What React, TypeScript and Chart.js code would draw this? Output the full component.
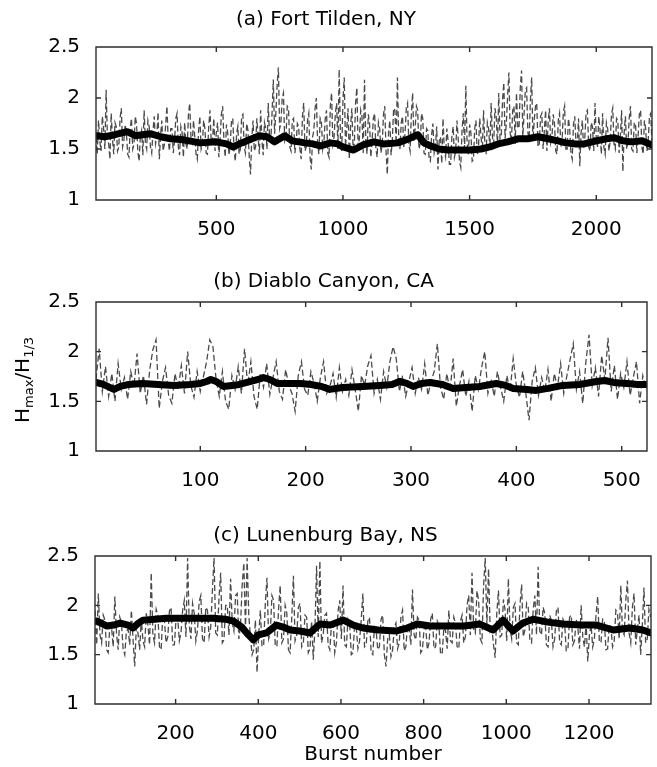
import React, { useEffect, useRef } from 'react';
import { Chart, registerables } from 'chart.js';

Chart.register(...registerables);

const FONT = "'DejaVu Sans', 'Liberation Sans', sans-serif";

// ---------- (a) Fort Tilden, NY ----------
const aTitle = '(a) Fort Tilden, NY';
const aTicksX = [500, 1000, 1500, 2000];
const aGrayStart = 25;
const aGrayStep = 5;
const aGray = [
  1.62, 1.45, 1.78, 1.58, 1.48, 1.82, 1.70, 1.50, 2.08, 1.62, 1.55, 1.40, 1.85, 1.60, 1.45, 1.76, 1.72, 1.48, 1.52, 1.80,
  1.90, 1.52, 1.58, 1.74, 1.66, 1.45, 1.42, 1.70, 1.80, 1.50, 1.55, 1.82, 1.75, 1.48, 1.38, 1.62, 1.68, 1.44, 1.88, 1.56,
  1.50, 1.78, 1.72, 1.52, 1.46, 1.68, 1.82, 1.55, 1.62, 1.86, 1.40, 1.64, 1.78, 1.48, 1.55, 1.74, 1.92, 1.58, 1.48, 1.70,
  1.70, 1.46, 1.58, 1.80, 1.85, 1.52, 1.44, 1.72, 1.66, 1.42, 1.76, 1.55, 1.50, 1.84, 1.95, 1.60, 1.56, 1.78, 1.62, 1.45,
  1.40, 1.68, 1.82, 1.50, 1.55, 1.78, 1.70, 1.46, 1.45, 1.72, 1.88, 1.56, 1.58, 1.80, 1.48, 1.66, 1.76, 1.42, 1.60, 1.84,
  1.92, 1.58, 1.42, 1.74, 1.66, 1.44, 1.55, 1.78, 1.80, 1.48, 1.38, 1.65, 1.72, 1.45, 1.50, 1.82, 1.84, 1.52, 1.46, 1.75,
  1.68, 1.42, 1.25, 1.60, 1.78, 1.48, 1.52, 1.80, 1.62, 1.45, 1.88, 1.58, 1.44, 1.76, 1.70, 1.50, 1.95, 1.62, 1.58, 1.85,
  2.18, 1.65, 1.85, 2.12, 2.30, 1.70, 1.75, 2.00, 2.05, 1.58, 1.62, 1.92, 1.90, 1.52, 1.48, 1.78, 1.80, 1.46, 1.55, 1.75,
  1.72, 1.50, 1.40, 1.82, 1.95, 1.48, 1.52, 1.78, 1.85, 1.42, 1.30, 1.62, 1.68, 1.90, 2.00, 1.55, 1.45, 1.80, 1.76, 1.50,
  1.58, 1.80, 1.88, 1.46, 1.42, 1.92, 2.05, 1.55, 1.62, 1.85, 1.95, 1.50, 2.28, 1.62, 1.48, 1.98, 2.20, 1.52, 1.70, 1.90,
  1.40, 1.72, 1.90, 1.50, 1.55, 1.96, 2.10, 1.48, 1.62, 1.88, 1.82, 1.46, 2.18, 1.60, 1.45, 1.84, 1.75, 1.42, 1.58, 1.80,
  1.85, 1.50, 1.42, 1.76, 1.70, 1.46, 1.55, 1.84, 1.92, 1.48, 1.25, 1.66, 1.78, 1.44, 1.60, 1.90, 1.88, 1.55, 2.20, 1.62,
  1.50, 1.76, 1.82, 1.52, 1.65, 1.90, 1.95, 1.55, 1.48, 1.84, 2.05, 1.58, 1.70, 1.92, 1.88, 1.50, 1.55, 1.85, 1.80, 1.46,
  1.45, 1.70, 1.68, 1.40, 1.38, 1.64, 1.75, 1.46, 1.52, 1.72, 1.30, 1.58, 1.62, 1.36, 1.80, 1.48, 1.42, 1.70, 1.58, 1.35,
  1.35, 1.62, 1.72, 1.42, 1.48, 1.78, 1.60, 1.38, 1.32, 1.68, 1.85, 1.50, 2.12, 1.56, 1.45, 1.74, 1.66, 1.38, 1.40, 1.70,
  1.78, 1.44, 1.52, 1.80, 1.62, 1.48, 1.88, 1.56, 1.45, 1.76, 1.70, 1.50, 1.95, 1.62, 1.55, 1.90, 1.82, 1.52, 2.05, 1.60,
  1.62, 1.98, 2.15, 1.60, 1.75, 2.02, 2.25, 1.66, 1.58, 1.88, 1.92, 1.55, 2.05, 1.72, 1.70, 2.10, 2.27, 1.62, 1.85, 2.08,
  2.10, 1.66, 1.60, 1.98, 2.20, 1.58, 1.78, 1.92, 1.95, 1.52, 1.55, 1.82, 1.85, 1.50, 1.68, 1.88, 1.48, 1.76, 1.90, 1.56,
  1.62, 1.84, 1.75, 1.48, 1.45, 1.78, 1.85, 1.52, 1.58, 1.86, 1.92, 1.50, 1.50, 1.80, 1.70, 1.46, 1.40, 1.74, 1.82, 1.55,
  1.55, 1.80, 1.33, 1.66, 1.78, 1.50, 1.62, 1.86, 1.88, 1.52, 1.48, 1.76, 1.72, 1.48, 1.95, 1.60, 1.52, 1.82, 1.68, 1.45,
  1.85, 1.52, 1.45, 1.76, 1.70, 1.48, 1.58, 1.84, 1.90, 1.55, 1.50, 1.80, 1.78, 1.46, 1.62, 1.88, 1.28, 1.66, 1.82, 1.50,
  1.55, 1.80, 1.92, 1.50, 1.48, 1.76, 1.75, 1.46, 1.62, 1.84, 1.88, 1.52, 1.45, 1.78, 1.70, 1.48, 1.58, 1.82, 1.85, 1.55,
];
const aSmoothX = [
  25, 60, 100, 148, 180, 239, 280, 320, 370, 437, 500, 540, 567, 600, 640,
  670, 700, 730, 750, 770, 800, 850, 880, 911, 951, 980, 1000, 1042, 1080, 1121,
  1160, 1216, 1250, 1295, 1320, 1347, 1380, 1414, 1450, 1500, 1545, 1580, 1612, 1650, 1691,
  1730, 1770, 1810, 1849, 1880, 1920, 1952, 2000, 2040, 2071, 2105, 2138, 2180, 2220,
];
const aSmoothY = [
  1.63, 1.62, 1.64, 1.67, 1.63, 1.65, 1.62, 1.60, 1.59, 1.56, 1.57, 1.55, 1.52, 1.56, 1.60,
  1.63, 1.62, 1.57, 1.60, 1.63, 1.58, 1.56, 1.55, 1.53, 1.56, 1.55, 1.52, 1.49, 1.54, 1.57,
  1.55, 1.56, 1.59, 1.64, 1.56, 1.53, 1.50, 1.49, 1.49, 1.49, 1.50, 1.52, 1.55, 1.57, 1.60,
  1.60, 1.62, 1.60, 1.58, 1.56, 1.55, 1.55, 1.58, 1.60, 1.61, 1.58, 1.57, 1.58, 1.54,
];

// ---------- (b) Diablo Canyon, CA ----------
const bTitle = '(b) Diablo Canyon, CA';
const bTicksX = [100, 200, 300, 400, 500];
const bGrayStart = 1;
const bGrayStep = 3;
const bGray = [
  1.72, 2.03, 1.60, 1.85, 1.55, 1.78, 1.50, 1.88, 1.62, 1.74,
  1.52, 1.80, 1.65, 1.98, 1.58, 1.76, 1.47, 1.82, 2.02, 2.12,
  1.43, 1.70, 1.84, 1.56, 1.48, 1.78, 1.62, 1.86, 1.58, 2.00,
  1.66, 1.54, 1.80, 1.60, 1.75, 1.90, 2.12, 2.05, 1.72, 1.55,
  1.80, 1.50, 1.42, 1.76, 1.62, 1.85, 1.58, 2.03, 1.66, 1.90,
  1.55, 1.42, 1.78, 1.64, 1.88, 1.57, 1.74, 1.90, 1.60, 1.52,
  1.82, 1.66, 1.58, 1.40, 1.76, 1.90, 1.62, 1.56, 1.80, 1.68,
  1.50, 1.74, 1.90, 1.58, 1.65, 1.78, 1.54, 1.84, 1.60, 1.72,
  1.56, 1.82, 1.62, 1.40, 1.76, 1.66, 1.86, 1.96, 1.58, 1.72,
  1.52, 1.80, 1.64, 1.90, 2.05, 1.93, 1.60, 1.76, 1.55, 1.70,
  1.84, 1.58, 1.74, 1.62, 1.88, 1.56, 1.70, 1.80, 2.08, 1.64,
  1.52, 1.78, 1.60, 1.93, 1.45, 1.66, 1.82, 1.55, 1.70, 1.40,
  1.76, 1.62, 1.84, 2.00, 1.58, 1.72, 1.55, 1.80, 1.64, 1.50,
  1.76, 1.60, 1.93, 1.66, 1.54, 1.80, 1.58, 1.31, 1.70, 1.84,
  1.56, 1.74, 1.60, 1.82, 1.50, 1.78, 1.64, 1.88, 1.58, 1.76,
  1.92, 2.08, 1.62, 1.80, 1.48, 1.90, 2.17, 1.66, 1.84, 1.55,
  1.96, 1.72, 2.14, 1.60, 1.86, 1.52, 1.78, 1.64, 1.90, 1.56,
  1.74, 1.90, 1.48, 1.76, 1.62,
];
const bSmoothX = [
  1, 8, 14, 18, 24, 32, 45, 60, 75, 90, 100, 106, 110, 115, 122, 130, 137, 148,
  155, 160, 166, 173, 185, 195, 205, 215, 223, 235, 254, 270, 282, 289, 296, 302,
  310, 318, 330, 340, 352, 365, 381, 390, 397, 410, 419, 430, 444, 460, 476, 484,
  492, 505, 515, 524,
];
const bSmoothY = [
  1.69, 1.67, 1.64, 1.62, 1.65, 1.67, 1.68, 1.67, 1.66, 1.67, 1.68, 1.70, 1.72, 1.70, 1.65, 1.66, 1.67, 1.70,
  1.72, 1.74, 1.72, 1.68, 1.68, 1.68, 1.67, 1.65, 1.62, 1.64, 1.65, 1.66, 1.67, 1.70, 1.68, 1.65,
  1.68, 1.69, 1.67, 1.63, 1.64, 1.65, 1.68, 1.66, 1.63, 1.62, 1.61, 1.63, 1.66, 1.67, 1.70, 1.71,
  1.69, 1.68, 1.67, 1.67,
];

// ---------- (c) Lunenburg Bay, NS ----------
const cTitle = '(c) Lunenburg Bay, NS';
const cTicksX = [200, 400, 600, 800, 1000, 1200];
const cGrayStart = 5;
const cGrayStep = 4;
const cGray = [
  1.95, 1.60, 2.12, 1.70, 1.62, 1.90, 1.85, 1.55, 1.52, 1.80, 1.78, 1.58, 2.09, 1.72, 1.55, 1.88, 1.82, 1.56, 1.50, 1.74,
  1.76, 1.60, 1.95, 1.66, 1.38, 1.78, 1.72, 1.55, 1.86, 1.64, 1.58, 1.92, 1.80, 1.60, 2.33, 1.70, 1.62, 1.96, 1.90, 1.58,
  1.55, 1.90, 1.84, 1.62, 1.68, 1.94, 1.98, 1.60, 1.60, 1.86, 1.88, 1.64, 1.72, 1.95, 2.05, 1.68, 2.48, 1.80, 1.66, 2.02,
  1.92, 1.64, 1.75, 2.04, 2.10, 1.66, 1.62, 1.98, 1.95, 1.68, 1.78, 2.15, 2.48, 1.72, 1.70, 2.08, 2.33, 1.62, 1.65, 2.00,
  2.00, 1.70, 2.27, 1.82, 1.74, 2.10, 2.12, 1.66, 1.80, 2.20, 2.43, 1.75, 2.48, 1.90, 1.68, 1.50, 1.55, 1.85, 1.32, 1.70,
  1.95, 1.58, 1.60, 2.02, 2.28, 1.66, 1.72, 2.10, 2.05, 1.60, 1.58, 1.96, 2.20, 1.62, 1.66, 2.00, 1.92, 1.55, 1.52, 1.88,
  2.30, 1.64, 1.70, 1.98, 2.02, 1.58, 1.62, 1.90, 1.88, 1.52, 1.56, 1.84, 1.45, 1.76, 2.40, 1.68, 2.45, 1.62, 1.70, 1.90,
  1.92, 1.60, 1.55, 1.80, 1.85, 1.52, 1.62, 1.94, 2.05, 1.66, 2.20, 1.60, 1.58, 1.86, 1.82, 1.50, 1.52, 1.80, 1.78, 1.56,
  1.64, 1.85, 2.12, 1.58, 1.60, 1.84, 1.88, 1.52, 1.50, 1.78, 1.75, 1.55, 1.58, 1.86, 1.90, 1.50, 1.38, 1.66, 1.70, 1.48,
  1.55, 1.78, 1.82, 1.56, 1.62, 1.88, 1.95, 1.54, 1.58, 1.80, 1.76, 1.60, 2.16, 1.70, 1.65, 1.88, 1.85, 1.52, 1.55, 1.76,
  1.78, 1.55, 1.62, 1.86, 1.92, 1.56, 1.58, 1.84, 1.80, 1.50, 1.52, 1.78, 1.74, 1.56, 1.95, 1.64, 1.62, 1.88, 1.82, 1.58,
  1.56, 1.84, 1.90, 1.62, 1.68, 2.00, 2.10, 1.70, 2.33, 1.76, 1.72, 2.15, 2.05, 1.66, 1.62, 2.20, 2.48, 1.80, 2.37, 1.74,
  1.78, 1.60, 1.47, 1.92, 2.15, 1.68, 1.70, 2.06, 1.95, 1.64, 2.27, 1.76, 1.66, 1.98, 2.02, 1.62, 1.60, 2.00, 2.21, 1.68,
  1.75, 2.02, 1.98, 1.64, 1.62, 1.96, 2.10, 1.70, 2.39, 1.74, 1.70, 1.98, 1.92, 1.60, 1.58, 1.90, 1.85, 1.58, 1.66, 1.94,
  1.98, 1.62, 1.60, 1.86, 1.82, 1.54, 1.55, 1.88, 1.90, 1.60, 1.64, 1.86, 1.78, 1.56, 2.00, 1.68, 1.58, 1.82, 1.43, 1.70,
  1.80, 1.58, 1.66, 1.90, 2.09, 1.64, 1.62, 1.86, 1.85, 1.55, 1.56, 1.80, 1.78, 1.58, 1.64, 1.95, 1.92, 1.66, 2.20, 1.74,
  1.70, 2.05, 2.25, 1.72, 1.62, 1.98, 2.12, 1.60, 1.75, 1.90, 1.50, 1.80, 2.18, 1.62, 1.66, 1.96, 1.88,
];
const cSmoothX = [
  5, 10, 34, 50, 66, 85, 97, 110, 121, 150, 177, 220, 258, 291, 320, 340, 360, 372,
  388, 400, 420, 444, 460, 477, 500, 525, 549, 574, 606, 630, 653, 690, 735, 760,
  784, 816, 860, 897, 936, 968, 992, 1016, 1040, 1065, 1100, 1137, 1180, 1218, 1259,
  1299, 1330, 1350,
];
const cSmoothY = [
  1.84, 1.84, 1.79, 1.80, 1.82, 1.80, 1.77, 1.82, 1.85, 1.86, 1.87, 1.87, 1.87, 1.87, 1.86, 1.84, 1.78, 1.72,
  1.65, 1.70, 1.72, 1.80, 1.78, 1.75, 1.74, 1.72, 1.81, 1.80, 1.85, 1.80, 1.77, 1.75, 1.74, 1.77,
  1.81, 1.79, 1.79, 1.79, 1.81, 1.75, 1.85, 1.74, 1.82, 1.86, 1.83, 1.81, 1.80, 1.80, 1.75,
  1.77, 1.75, 1.72,
];

const yMin = 1;
const yMax = 2.5;
const yStep = 0.5;
const xLabel = 'Burst number';

const framePlugin = {
  id: 'matlabFrame',
  afterDatasetsDraw(chart: any) {
    const { ctx, chartArea } = chart;
    const { left, right, top, bottom } = chartArea;
    const xs = chart.scales.x;
    const ys = chart.scales.y;
    ctx.save();
    ctx.strokeStyle = '#2e2e2e';
    ctx.lineWidth = 1.4;
    ctx.setLineDash([]);
    ctx.beginPath();
    ctx.rect(left, top, right - left, bottom - top);
    const L = 5;
    xs.ticks.forEach((t: any) => {
      const px = xs.getPixelForValue(t.value);
      ctx.moveTo(px, bottom);
      ctx.lineTo(px, bottom - L);
      ctx.moveTo(px, top);
      ctx.lineTo(px, top + L);
    });
    ys.ticks.forEach((t: any) => {
      const py = ys.getPixelForValue(t.value);
      ctx.moveTo(left, py);
      ctx.lineTo(left + L, py);
      ctx.moveTo(right, py);
      ctx.lineTo(right - L, py);
    });
    ctx.stroke();
    ctx.restore();
  },
};

type PanelProps = {
  top: number;
  height: number;
  title: string;
  titlePadTop: number;
  titlePadBottom: number;
  yWidth: number;
  padRight: number;
  xHeight: number;
  xMin: number;
  xMax: number;
  ticksX: number[];
  gray: number[];
  grayStart: number;
  grayStep: number;
  smoothX: number[];
  smoothY: number[];
  showXLabel?: boolean;
};

function Panel(p: PanelProps) {
  const ref = useRef<HTMLCanvasElement>(null);
  useEffect(() => {
    const grayPts = p.gray.map((v, i) => ({ x: p.grayStart + p.grayStep * i, y: v }));
    const smoothPts = p.smoothX.map((x, i) => ({ x, y: p.smoothY[i] }));
    const tickFont = { family: FONT, size: 20, weight: 'normal' as const };
    const chart = new Chart(ref.current as HTMLCanvasElement, {
      type: 'line',
      data: {
        datasets: [
          {
            data: smoothPts,
            borderColor: '#000',
            borderWidth: 7,
            pointRadius: 0,
            borderJoinStyle: 'round',
            borderCapStyle: 'round',
            order: 1,
          },
          {
            data: grayPts,
            borderColor: '#4a4a4a',
            borderWidth: 1.3,
            borderDash: [6, 3],
            pointRadius: 0,
            order: 2,
          },
        ],
      } as any,
      options: {
        responsive: false,
        animation: false,
        devicePixelRatio: 1,
        layout: { padding: { left: 0, right: p.padRight, top: 0, bottom: 0 } },
        plugins: {
          legend: { display: false },
          tooltip: { enabled: false },
          title: {
            display: true,
            text: p.title,
            color: '#000',
            font: { family: FONT, size: 20, weight: 'normal' },
            padding: { top: p.titlePadTop, bottom: p.titlePadBottom },
          },
        },
        scales: {
          x: {
            type: 'linear',
            min: p.xMin,
            max: p.xMax,
            grid: { display: false },
            border: { display: false },
            ticks: {
              autoSkip: false,
              maxRotation: 0,
              padding: 10,
              color: '#000',
              font: tickFont,
              callback: (v: any) => String(v),
            },
            afterBuildTicks: (axis: any) => {
              axis.ticks = p.ticksX.map((v) => ({ value: v }));
            },
            afterFit: (s: any) => {
              s.height = p.xHeight;
            },
            title: {
              display: !!p.showXLabel,
              text: xLabel,
              color: '#000',
              font: { family: FONT, size: 20, weight: 'normal' },
              padding: { top: 0, bottom: 0 },
            },
          },
          y: {
            type: 'linear',
            min: yMin,
            max: yMax,
            grid: { display: false },
            border: { display: false },
            ticks: {
              stepSize: yStep,
              padding: 8,
              color: '#000',
              font: tickFont,
              callback: (v: any) => String(v),
            },
            afterFit: (s: any) => {
              s.width = p.yWidth;
            },
          },
        },
      } as any,
      plugins: [framePlugin],
    });
    return () => chart.destroy();
  }, []);
  return (
    <canvas
      ref={ref}
      width={657}
      height={p.height}
      style={{ position: 'absolute', left: 0, top: p.top, width: 657, height: p.height, display: 'block' }}
    />
  );
}

export default function App() {
  return (
    <div style={{ position: 'absolute', left: 0, top: 0, width: 657, height: 767, background: '#fff', overflow: 'hidden' }}>
      <Panel
        top={0}
        height={240}
        title={aTitle}
        titlePadTop={8}
        titlePadBottom={15}
        yWidth={96}
        padRight={5}
        xHeight={40}
        xMin={25}
        xMax={2220}
        ticksX={aTicksX}
        gray={aGray}
        grayStart={aGrayStart}
        grayStep={aGrayStep}
        smoothX={aSmoothX}
        smoothY={aSmoothY}
      />
      <Panel
        top={250}
        height={241}
        title={bTitle}
        titlePadTop={20}
        titlePadBottom={8}
        yWidth={96}
        padRight={10}
        xHeight={40}
        xMin={1}
        xMax={524}
        ticksX={bTicksX}
        gray={bGray}
        grayStart={bGrayStart}
        grayStep={bGrayStep}
        smoothX={bSmoothX}
        smoothY={bSmoothY}
      />
      <Panel
        top={500}
        height={267}
        title={cTitle}
        titlePadTop={24}
        titlePadBottom={8}
        yWidth={95}
        padRight={6}
        xHeight={63}
        xMin={5}
        xMax={1350}
        ticksX={cTicksX}
        gray={cGray}
        grayStart={cGrayStart}
        grayStep={cGrayStep}
        smoothX={cSmoothX}
        smoothY={cSmoothY}
        showXLabel
      />
      <div
        style={{
          position: 'absolute',
          left: 12,
          top: 423,
          transform: 'rotate(-90deg)',
          transformOrigin: '0 0',
          whiteSpace: 'nowrap',
          fontFamily: FONT,
          fontSize: 20,
          lineHeight: '20px',
          color: '#000',
        }}
      >
        H<sub style={{ fontSize: 13, verticalAlign: '-4px', lineHeight: 0 }}>max</sub>/H
        <sub style={{ fontSize: 13, verticalAlign: '-4px', lineHeight: 0 }}>1/3</sub>
      </div>
    </div>
  );
}
